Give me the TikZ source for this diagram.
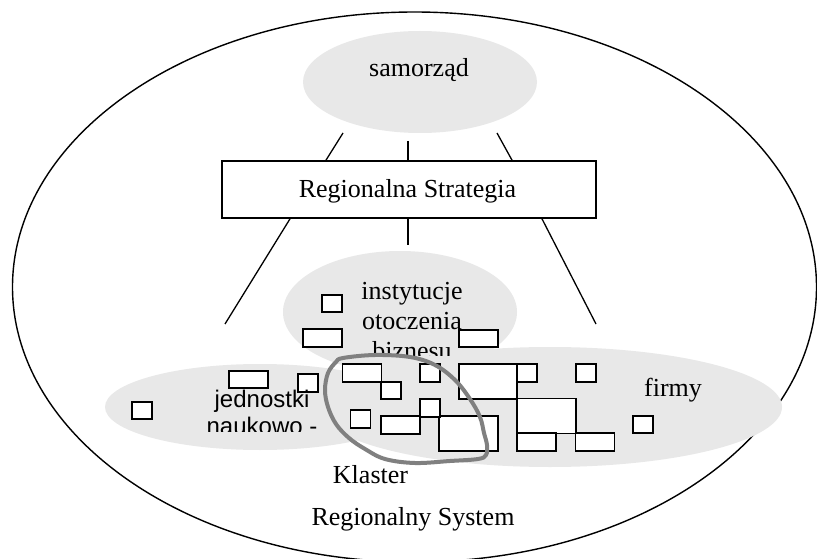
\documentclass[tikz,border=0pt]{standalone}
\usepackage{fontspec}
\setmainfont{Liberation Serif}
\newfontfamily\arialf{Liberation Sans}
\usetikzlibrary{shapes.geometric}
\definecolor{cloud}{RGB}{232,232,232}
\definecolor{loopgray}{RGB}{128,128,128}
\tikzset{
  blob/.style={ellipse, fill=cloud, draw=none, inner sep=0pt},
  lbl/.style={anchor=base, inner sep=0pt, font=\fontsize{26}{30}\selectfont},
  albl/.style={anchor=base, inner sep=0pt, font=\arialf\fontsize{24}{27}\selectfont},
  spoke/.style={line width=1.3pt},
  unit/.style={draw, fill=white, line width=1.8pt, inner sep=0pt},
  sq/.style={unit, minimum width=20pt, minimum height=17.5pt},
  rc/.style={unit, minimum width=39pt, minimum height=17.5pt},
  bg/.style={unit, minimum width=58.5pt, minimum height=35pt}
}
\begin{document}
\begin{tikzpicture}[x=1pt,y=-1pt]
\useasboundingbox (0,0) rectangle (817,559);
\fill[white] (0,0) rectangle (817,559);
% outer region
\node[ellipse, draw, line width=1.4pt, inner sep=0pt, minimum width=804pt, minimum height=550pt] (sys) at (414.5,287) {};
% samorzad
\node[blob, minimum width=234pt, minimum height=102pt] (sam) at (420,82) {};
\node[lbl] (samt) at (419,77) {samorząd};
% strategy box
\node[draw, fill=white, line width=1.7pt, inner sep=0pt, minimum width=374pt, minimum height=57pt] (box) at (409,189.5) {};
\node[lbl] (boxt) at (407.5,197) {Regionalna Strategia};
% spokes above box
\coordinate (u1) at (343,133);
\coordinate (u2) at (408,141);
\coordinate (u3) at (497,133);
\coordinate (u1b) at (326,161);
\coordinate (u3b) at (512,161);
\draw[spoke] (u1) -- (u1b |- box.north);
\draw[spoke] (u2) -- (u2 |- box.north);
\draw[spoke] (u3) -- (u3b |- box.north);
% spokes below box
\coordinate (d1) at (225,324);
\coordinate (d2) at (408,245);
\coordinate (d3) at (596,324);
\coordinate (d1a) at (290,218);
\coordinate (d3a) at (542,218);
\draw[spoke] (d1a |- box.south) -- (d1);
\draw[spoke] (d2 |- box.south) -- (d2);
\draw[spoke] (d3a |- box.south) -- (d3);
% the three groups
\node[blob, minimum width=234pt, minimum height=122pt] (inst) at (400,312) {};
\node[blob, minimum width=310pt, minimum height=86pt] (jedn) at (260,407) {};
\node[blob, minimum width=464pt, minimum height=120pt] (firm) at (550,407) {};
% labels of groups
\node[lbl] (it1) at (412,299) {instytucje};
\node[lbl] (it2) at (412,329) {otoczenia};
\begin{scope}
\clip (330,330) rectangle (500,355);
\node[lbl] (it3) at (412,359) {biznesu};
\end{scope}
\node[lbl] (ft) at (673,396) {firmy};
% units
\node[sq] (r1) at (142,410.5) {};
\node[rc] (r2) at (248.5,379.5) {};
\node[sq] (r3) at (308,383) {};
\node[sq] (r4) at (332,303.5) {};
\node[rc] (r5) at (322.5,338) {};
\node[rc] (r6) at (478.5,338.5) {};
\node[rc] (r7) at (362,373) {};
\node[sq] (r8) at (391,390.5) {};
\node[sq] (r9) at (430,373) {};
\node[bg] (r10) at (488,381.5) {};
\node[sq] (r11) at (527,373) {};
\node[sq] (r12) at (586,373) {};
\node[bg] (r13) at (546.5,416) {};
\node[rc] (r14) at (536.5,442) {};
\node[rc] (r15) at (595,442) {};
\node[sq] (r16) at (643,424.5) {};
\node[bg] (r17) at (468.5,433.5) {};
\node[sq] (r18) at (430,408) {};
\node[rc] (r19) at (400.5,425) {};
\node[sq] (r20) at (360.5,419) {};
% jednostki label
\node[albl] (jt1) at (262,407) {jednostki};
\begin{scope}
\clip (190,412) rectangle (340,431);
\node[albl] (jt2) at (262,434) {naukowo -};
\end{scope}
% cluster loop
\draw[loopgray, line width=4pt, line join=round]
  plot[smooth cycle, tension=0.6] coordinates {
  (343,358) (375,355) (410,357) (435,365) (455,380) (470,399) (480,417)
  (484,433) (487,445) (486,455) (478,459) (450,461) (415,463) (385,459)
  (365,449) (349,438) (336,424) (328,407) (325,390) (328,373) (336,362)};
\node[lbl] (kt) at (370.5,483) {Klaster};
\node[lbl] (st) at (413,525) {Regionalny System};
\end{tikzpicture}
\end{document}
